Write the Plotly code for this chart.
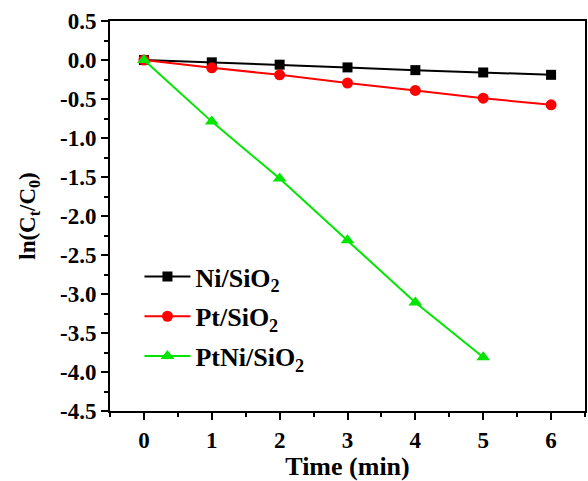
import plotly.graph_objects as go

time_min = [0, 1, 2, 3, 4, 5, 6]
ni_sio2 = [0.0, -0.03, -0.06, -0.095, -0.13, -0.16, -0.19]
pt_sio2 = [0.0, -0.10, -0.19, -0.295, -0.39, -0.49, -0.575]
ptni_time = [0, 1, 2, 3, 4, 5]
ptni_sio2 = [0.0, -0.79, -1.52, -2.31, -3.11, -3.81]

y_ticks = [0.5, 0.0, -0.5, -1.0, -1.5, -2.0, -2.5, -3.0, -3.5, -4.0, -4.5]
y_labels = ["<b>" + s + "</b>" for s in
            ["0.5", "0.0", "-0.5", "-1.0", "-1.5", "-2.0", "-2.5", "-3.0", "-3.5", "-4.0", "-4.5"]]
x_ticks = [0, 1, 2, 3, 4, 5, 6]
x_labels = ["<b>%d</b>" % v for v in x_ticks]

font_family = "Liberation Serif"
tick_font = dict(family=font_family, size=23, color="black")

fig = go.Figure()
fig.add_trace(go.Scatter(
    x=time_min, y=ni_sio2, mode="lines+markers", name="Ni/SiO<sub>2</sub>",
    legendgroup="ni",
    line=dict(color="black", width=2),
    marker=dict(symbol="square", size=10, color="black"),
))
fig.add_trace(go.Scatter(
    x=time_min, y=pt_sio2, mode="lines+markers", name="Pt/SiO<sub>2</sub>",
    legendgroup="pt",
    line=dict(color="#ff0000", width=2),
    marker=dict(symbol="circle", size=11, color="#ff0000"),
))
fig.add_trace(go.Scatter(
    x=ptni_time, y=ptni_sio2, mode="lines+markers", name="PtNi/SiO<sub>2</sub>",
    legendgroup="ptni",
    line=dict(color="#00e600", width=2),
    marker=dict(symbol="triangle-up", size=12, color="#00e600"),
))

fig.update_xaxes(
    range=[-0.5, 6.5], tickmode="array", tickvals=x_ticks, ticktext=x_labels,
    tickfont=tick_font,
    showline=True, linecolor="black", linewidth=2, mirror=True,
    ticks="outside", tickcolor="black", tickwidth=2, ticklen=7,
    showgrid=False, zeroline=False,
    minor=dict(ticks="outside", tickmode="linear", dtick=0.5, tick0=0, ticklen=4,
               tickwidth=2, tickcolor="black", showgrid=False),
    title=dict(text="<b>Time (min)</b>", font=dict(family=font_family, size=26, color="black"), standoff=8),
)
fig.update_yaxes(
    range=[-4.5, 0.5], tickmode="array", tickvals=y_ticks, ticktext=y_labels,
    tickfont=tick_font,
    showline=True, linecolor="black", linewidth=2, mirror=True,
    ticks="outside", tickcolor="black", tickwidth=2, ticklen=7,
    showgrid=False, zeroline=False,
    minor=dict(ticks="outside", tickmode="linear", dtick=0.25, tick0=0, ticklen=4,
               tickwidth=2, tickcolor="black", showgrid=False),
    title=dict(text="<b>ln(C<sub>t</sub>/C<sub>0</sub>)</b>", font=dict(family=font_family, size=23, color="black"), standoff=18),
)

fig.update_layout(
    width=588, height=481,
    margin=dict(l=110, r=3, t=21, b=70, autoexpand=False),
    font=dict(family=font_family, color="black"),
    plot_bgcolor="white", paper_bgcolor="white",
    legend=dict(
        x=0.062, y=0.405, xanchor="left", yanchor="top",
        font=dict(family=font_family, size=26, color="black", weight="bold"),
        bgcolor="rgba(0,0,0,0)", traceorder="grouped", tracegroupgap=3, itemwidth=46,
    ),
)

fig.write_html("out.html")
